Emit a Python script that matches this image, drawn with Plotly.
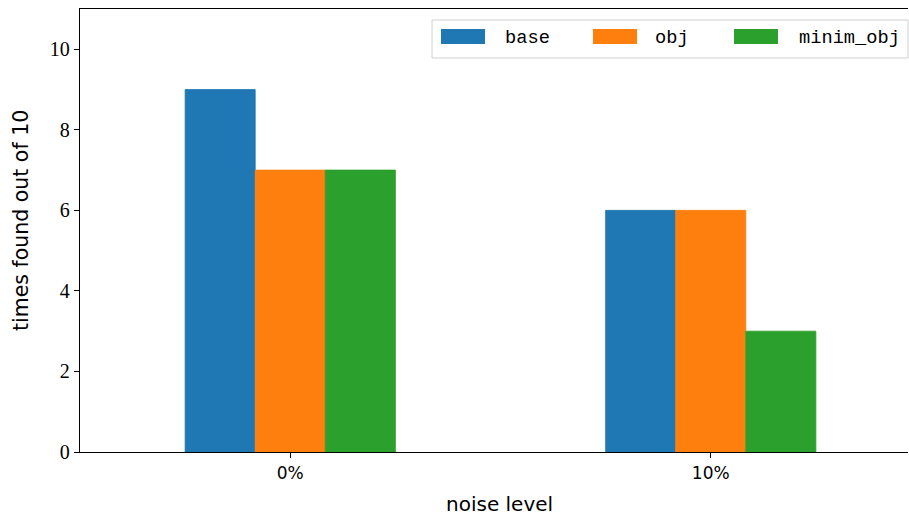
import plotly.graph_objects as go

categories = ["0%", "10%"]
series_names = ["base", "obj", "minim_obj"]
base = [9, 6]
obj = [7, 6]
minim_obj = [7, 3]
series_values = [base, obj, minim_obj]
colors = ["#1f77b4", "#ff7f0e", "#2ca02c"]
y_ticks = [0, 2, 4, 6, 8, 10]

W, H = 909, 516
L, R, T, B = 80, 908, 9, 452
PW, PH = R - L, B - T


def px_x(x):
    return (x - L) / PW


def px_y(y):
    return (B - y) / PH


fig = go.Figure()
for name, vals, col in zip(series_names, series_values, colors):
    fig.add_trace(go.Bar(x=[0, 1], y=vals, name=name,
                         marker=dict(color=col, line=dict(width=0.8, color=col)),
                         showlegend=False))

fig.update_layout(
    width=W, height=H,
    margin=dict(l=L, r=W - R, t=T, b=H - B, pad=0),
    plot_bgcolor="white", paper_bgcolor="white",
    barmode="group", bargap=0.5, bargroupgap=0,
    xaxis=dict(range=[-0.5, 1.5 - (921 - R) / 420], tickmode="array", tickvals=[0, 1],
               ticktext=categories, showgrid=False, zeroline=False,
               showline=True, linecolor="black", linewidth=1.3, mirror=True,
               ticks="outside", ticklen=5, tickwidth=1.2, tickcolor="black",
               tickfont=dict(family="DejaVu Sans", size=17, color="black")),
    yaxis=dict(range=[0, 11], tickmode="array", tickvals=y_ticks,
               ticktext=[str(v) for v in y_ticks], showgrid=False, zeroline=False,
               showline=True, linecolor="black", linewidth=1.3, mirror=False,
               ticks="outside", ticklen=5, tickwidth=1.2, tickcolor="black",
               tickfont=dict(family="Liberation Serif", size=20, color="black")),
    font=dict(family="DejaVu Sans", color="black"),
)

# axis titles
fig.add_annotation(text="times found out of 10", xref="paper", yref="paper",
                   x=px_x(21), y=px_y(221), textangle=-90, showarrow=False,
                   font=dict(family="DejaVu Sans", size=20.5, color="black"),
                   xanchor="center", yanchor="middle")
fig.add_annotation(text="noise level", xref="paper", yref="paper",
                   x=px_x(499), y=px_y(504), showarrow=False,
                   font=dict(family="DejaVu Sans", size=20, color="black"),
                   xanchor="center", yanchor="middle")

# legend box
fig.add_shape(type="rect", xref="paper", yref="paper",
              x0=px_x(432), x1=px_x(908), y0=px_y(58), y1=px_y(20),
              line=dict(color="#d0d0d0", width=1), fillcolor="rgba(255,255,255,0.8)", layer="above")
patch_x = [441, 593, 734]
text_x = [503, 653, 797]
for name, col, px0, tx in zip(series_names, colors, patch_x, text_x):
    fig.add_shape(type="rect", xref="paper", yref="paper",
                  x0=px_x(px0), x1=px_x(px0 + 44), y0=px_y(44), y1=px_y(29),
                  line=dict(width=0), fillcolor=col, layer="above")
    fig.add_annotation(text=name, xref="paper", yref="paper", x=px_x(tx), y=px_y(38),
                       showarrow=False, xanchor="left", yanchor="middle",
                       font=dict(family="Liberation Mono", size=18.7, color="black"))

fig.write_html("out.html", config={"displayModeBar": False},
               post_script="document.body.style.margin='0px';document.body.style.overflow='hidden';")
